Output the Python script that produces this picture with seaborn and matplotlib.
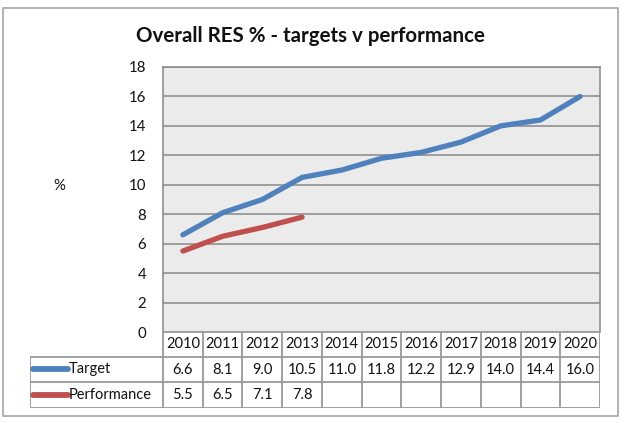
import numpy as np
import pandas as pd
import matplotlib
matplotlib.use("Agg")
import matplotlib.pyplot as plt
from matplotlib.patches import Rectangle
import seaborn as sns

years = [2010, 2011, 2012, 2013, 2014, 2015, 2016, 2017, 2018, 2019, 2020]
target = [6.6, 8.1, 9.0, 10.5, 11.0, 11.8, 12.2, 12.9, 14.0, 14.4, 16.0]
performance = [5.5, 6.5, 7.1, 7.8]
series_names = ["Target", "Performance"]
colors = ["#4f81bd", "#c0504d"]
yticks = [0, 2, 4, 6, 8, 10, 12, 14, 16, 18]

sns.set_theme(style="white")
plt.rcParams["font.family"] = ["Lato", "DejaVu Sans"]

# long form table for seaborn, years as category positions
rows = []
for i, v in enumerate(target):
    rows.append({"pos": i, "value": v, "series": "Target"})
for i, v in enumerate(performance):
    rows.append({"pos": i, "value": v, "series": "Performance"})
df = pd.DataFrame(rows)

W, H = 624, 423
fig = plt.figure(figsize=(W / 100, H / 100), dpi=100)
fig.patch.set_facecolor("white")

# outer chart border
fig.patches.append(Rectangle((3 / W, 1 - 416 / H), 615 / W, 408 / H,
                             transform=fig.transFigure, fill=False,
                             edgecolor="#a6a6a6", lw=1.2))

ax = fig.add_axes([163 / W, 1 - 332 / H, 437 / W, 265 / H])
ax.set_facecolor("#ebebeb")
for y in yticks:
    ax.axhline(y, color="#888888", lw=1.1, zorder=1)

sns.lineplot(data=df, x="pos", y="value", hue="series", hue_order=series_names,
             palette=colors, lw=3.8, ax=ax, legend=False, zorder=3,
             solid_capstyle="round")

n = len(years)
ax.set_xlim(-0.5, n - 0.5)
ax.set_ylim(0, 18)
ax.set_yticks(yticks)
ax.set_yticklabels([str(t) for t in yticks], fontsize=10.8, color="#111111")
ax.tick_params(axis="y", length=0, pad=12)
ax.set_xticks([])
ax.set_xlabel("")
ax.set_ylabel("")
for s in ax.spines.values():
    s.set_color("#888888")
    s.set_linewidth(1.1)
ax.spines["bottom"].set_visible(False)

fig.text(59 / W, 1 - 186 / H, "%", fontsize=10.8, ha="center", va="center",
         color="#111111")
fig.text(310 / W, 1 - 36 / H, "Overall RES % - targets v performance",
         fontsize=14.8, fontweight="bold", ha="center", va="center",
         color="#111111")

# data table under the chart
tx = fig.add_axes([30 / W, 1 - 408 / H, 570 / W, 76 / H])
col_w = 437 / n
left = -0.5 - 133 / col_w
tx.set_xlim(left, n - 0.5)
tx.set_ylim(76, 0)
tx.axis("off")
gc = "#999999"
row_edges = [0, 25, 50, 76]
tx.hlines(row_edges[0], -0.5, n - 0.5, color=gc, lw=1.3)
for y in row_edges[1:]:
    tx.hlines(y, left, n - 0.5, color=gc, lw=1.3)
for i in range(n + 1):
    tx.vlines(i - 0.5, 0, 76, color=gc, lw=1.3)
tx.vlines(left, 25, 76, color=gc, lw=1.3)

fs = 10.5
for i, yr in enumerate(years):
    tx.text(i, 12.5, str(yr), ha="center", va="center", fontsize=fs, color="#111111")
series_vals = [target, performance]
for r, (name, vals, c) in enumerate(zip(series_names, series_vals, colors)):
    yc = (row_edges[r + 1] + row_edges[r + 2]) / 2
    tx.plot([left + 3 / col_w, left + 38 / col_w], [yc, yc], color=c, lw=4.2,
            solid_capstyle="round")
    tx.text(left + 39 / col_w, yc, name, ha="left", va="center", fontsize=fs,
            color="#111111")
    for i, v in enumerate(vals):
        tx.text(i, yc, f"{v:.1f}", ha="center", va="center", fontsize=fs,
                color="#111111")

fig.savefig("out.png", dpi=100)
